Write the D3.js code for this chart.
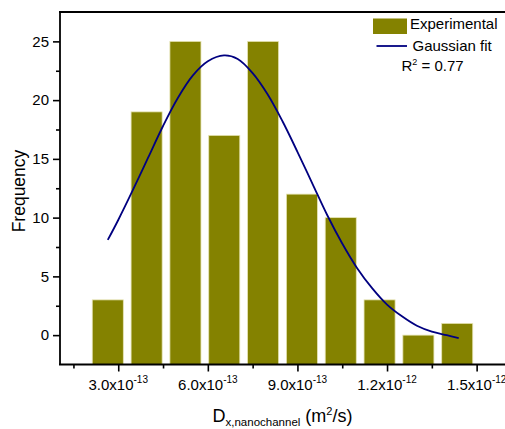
<!DOCTYPE html>
<html>
<head>
<meta charset="utf-8">
<script src="https://cdn.jsdelivr.net/npm/d3@7"></script>
<style>
  body { margin: 0; background: #fff; }
  svg { font-family: "Liberation Sans", Arial, sans-serif; }
</style>
</head>
<body>
<svg id="chart" width="505" height="429"></svg>
<script>
// DATA -----------------------------------------------------------
// histogram bins (bin centres, m^2/s) and counts
const binCenters = [2.65e-13, 3.95e-13, 5.25e-13, 6.55e-13, 7.85e-13, 9.15e-13, 1.045e-12, 1.175e-12, 1.305e-12, 1.435e-12]
const counts = [3, 19, 25, 17, 25, 12, 10, 3, 0, 1]
const binWidth = 1.3e-13

// gaussian fit curve
const fitX = [2.65e-13, 3.0e-13, 3.5e-13, 4.0e-13, 4.5e-13, 5.0e-13, 5.5e-13, 6.0e-13, 6.54e-13, 7.0e-13, 7.5e-13, 8.0e-13, 8.5e-13, 9.0e-13, 9.5e-13, 1.0e-12, 1.05e-12, 1.1e-12, 1.15e-12, 1.2e-12, 1.25e-12, 1.3e-12, 1.35e-12, 1.4e-12, 1.44e-12]
const fitY = [8.1, 9.8, 12.4, 15.1, 17.8, 20.2, 22.1, 23.3, 23.8, 23.5, 22.3, 20.5, 18.2, 15.6, 12.9, 10.2, 7.8, 5.7, 4.0, 2.6, 1.6, 0.8, 0.3, 0.0, -0.25]

// ticks
const xMajor = [3e-13, 6e-13, 9e-13, 1.2e-12, 1.5e-12]
const xMajorMantissa = ["3.0", "6.0", "9.0", "1.2", "1.5"]
const xMajorExp = ["-13", "-13", "-13", "-12", "-12"]
const xMinor = [1.5e-13, 4.5e-13, 7.5e-13, 1.05e-12, 1.35e-12]
const yMajor = [0, 5, 10, 15, 20, 25]
const yMinor = [2.5, 7.5, 12.5, 17.5, 22.5]

const legendLabels = ["Experimental", "Gaussian fit"]

// LAYOUT -----------------------------------------------------------
const plotLeft = 60, plotTop = 12, plotBottom = 364.5
const olive = "#848200"
const navy = "#000080"

const svg = d3.select("#chart")

const xScale = d3.scaleLinear()
    .domain([1.05e-13, 1.6e-12])
    .range([plotLeft, 506.5])

const yScale = d3.scaleLinear()
    .domain([-2.5, 27.5])
    .range([plotBottom, plotTop])

// BARS -----------------------------------------------------------
const barW = (xScale(binWidth) - xScale(0)) * 0.8
svg.append("g").selectAll("rect")
    .data(binCenters)
    .join("rect")
        .attr("x", (d) => xScale(d) - barW / 2)
        .attr("width", barW)
        .attr("y", (d, i) => yScale(counts[i]))
        .attr("height", (d, i) => yScale(-2.5) - yScale(counts[i]))
        .attr("fill", olive)
        .attr("stroke", "#e6e4b4")
        .attr("stroke-width", 0.8)

// FIT CURVE -----------------------------------------------------------
const line = d3.line()
    .curve(d3.curveCatmullRom)
    .x((d, i) => xScale(fitX[i]))
    .y((d) => yScale(d))

svg.append("path")
    .datum(fitY)
    .attr("d", line)
    .attr("fill", "none")
    .attr("stroke", navy)
    .attr("stroke-width", 1.8)

// AXES -----------------------------------------------------------
const xAxis = svg.append("g")
    .attr("transform", `translate(0, ${plotBottom})`)
    .call(d3.axisBottom(xScale).tickValues(xMajor).tickSize(7).tickFormat(""))
xAxis.select(".domain").remove()
xAxis.selectAll(".tick line").attr("stroke-width", 1.6)

const xAxisMinor = svg.append("g")
    .attr("transform", `translate(0, ${plotBottom})`)
    .call(d3.axisBottom(xScale).tickValues(xMinor).tickSize(4).tickFormat(""))
xAxisMinor.select(".domain").remove()
xAxisMinor.selectAll(".tick line").attr("stroke-width", 1.6)

const yAxis = svg.append("g")
    .attr("transform", `translate(${plotLeft}, 0)`)
    .call(d3.axisLeft(yScale).tickValues(yMajor).tickSize(7).tickPadding(4))
yAxis.select(".domain").remove()
yAxis.selectAll(".tick line").attr("stroke-width", 1.6)
yAxis.selectAll(".tick text")
    .attr("font-size", 15)
    .attr("font-family", "Liberation Sans, Arial, sans-serif")
    .attr("fill", "#000")

const yAxisMinor = svg.append("g")
    .attr("transform", `translate(${plotLeft}, 0)`)
    .call(d3.axisLeft(yScale).tickValues(yMinor).tickSize(4).tickFormat(""))
yAxisMinor.select(".domain").remove()
yAxisMinor.selectAll(".tick line").attr("stroke-width", 1.6)

// frame lines: left, bottom, top
svg.append("line").attr("x1", plotLeft).attr("x2", plotLeft).attr("y1", plotTop).attr("y2", plotBottom)
    .attr("stroke", "#000").attr("stroke-width", 1.8)
svg.append("line").attr("x1", plotLeft - 1).attr("x2", 505).attr("y1", plotBottom).attr("y2", plotBottom)
    .attr("stroke", "#000").attr("stroke-width", 1.8)
svg.append("line").attr("x1", plotLeft - 1).attr("x2", 505).attr("y1", plotTop).attr("y2", plotTop)
    .attr("stroke", "#000").attr("stroke-width", 1.8)

// x tick labels with superscript exponent
xMajor.forEach((v, i) => {
    const t = svg.append("text")
        .attr("x", xScale(v))
        .attr("y", 390)
        .attr("text-anchor", "middle")
        .attr("font-size", 15)
    t.append("tspan").text(xMajorMantissa[i] + "x10")
    t.append("tspan").attr("font-size", 10).attr("dy", -7).text(xMajorExp[i])
})

// axis titles
const xTitle = svg.append("text")
    .attr("x", 282.5)
    .attr("y", 421.5)
    .attr("text-anchor", "middle")
    .attr("font-size", 18)
xTitle.append("tspan").text("D")
xTitle.append("tspan").attr("font-size", 11.5).attr("dy", 4).text("x,nanochannel")
xTitle.append("tspan").attr("dy", -4).text(" (m")
xTitle.append("tspan").attr("font-size", 11).attr("dy", -7).text("2")
xTitle.append("tspan").attr("dy", 7).text("/s)")

svg.append("text")
    .attr("transform", "translate(24.5, 191) rotate(-90)")
    .attr("text-anchor", "middle")
    .attr("font-size", 17.5)
    .text("Frequency")

// LEGEND -----------------------------------------------------------
svg.append("rect")
    .attr("x", 373).attr("y", 18.5)
    .attr("width", 34).attr("height", 15.5)
    .attr("fill", olive)
svg.append("text").attr("x", 410).attr("y", 29).attr("font-size", 15).text(legendLabels[0])

svg.append("line")
    .attr("x1", 376.5).attr("x2", 407).attr("y1", 46).attr("y2", 46)
    .attr("stroke", navy).attr("stroke-width", 1.8)
svg.append("text").attr("x", 412.5).attr("y", 50.7).attr("font-size", 15).text(legendLabels[1])

const r2 = svg.append("text").attr("x", 401.5).attr("y", 70.7).attr("font-size", 15)
r2.append("tspan").text("R")
r2.append("tspan").attr("font-size", 9).attr("dy", -6).text("2")
r2.append("tspan").attr("dy", 6).text(" = 0.77")
</script>
</body>
</html>
